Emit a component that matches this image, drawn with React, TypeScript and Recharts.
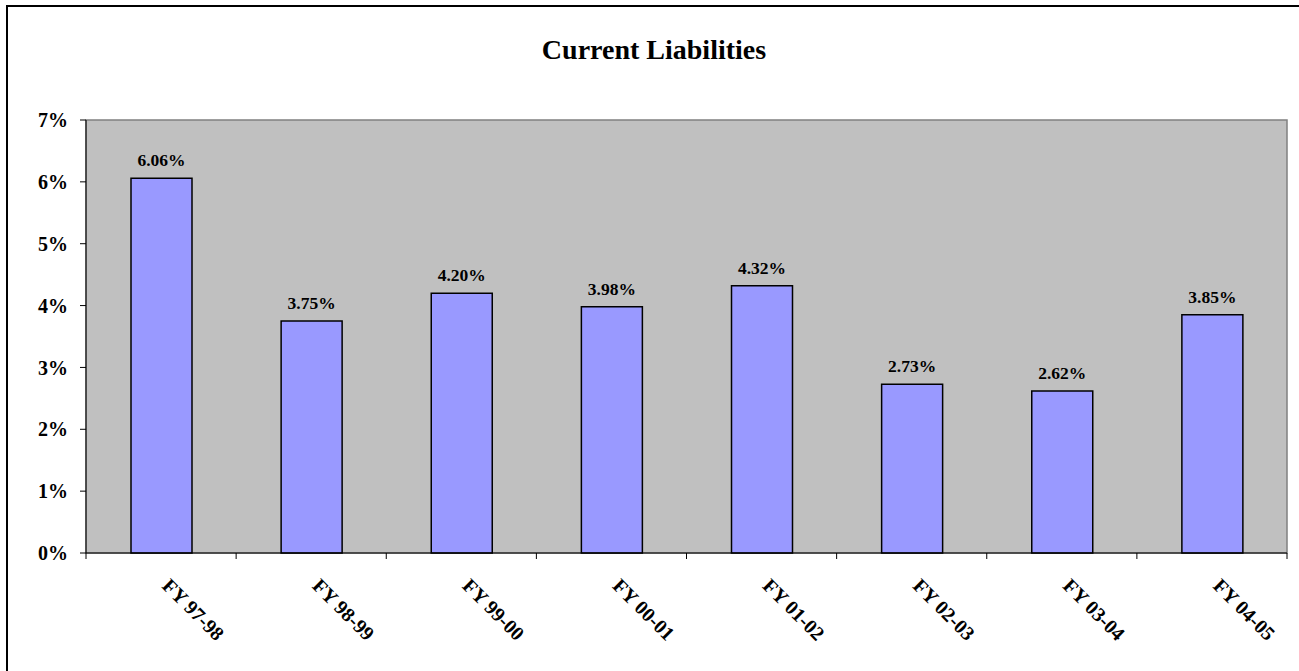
import React from "react";
import {
  Bar,
  BarChart,
  CartesianGrid,
  LabelList,
  ReferenceArea,
  XAxis,
  YAxis,
} from "recharts";

// chart values
const years: string[] = [
  "FY 97-98",
  "FY 98-99",
  "FY 99-00",
  "FY 00-01",
  "FY 01-02",
  "FY 02-03",
  "FY 03-04",
  "FY 04-05",
];
const liabilities: number[] = [6.06, 3.75, 4.2, 3.98, 4.32, 2.73, 2.62, 3.85];
const yTicks: number[] = [0, 1, 2, 3, 4, 5, 6, 7];

interface Row {
  name: string;
  value: number;
}

const data: Row[] = years.map((name, i) => ({ name, value: liabilities[i] }));

const W = 1299;
const H = 671;
const margin = { top: 120, right: 12, bottom: 0, left: 0 };
const Y_AXIS_W = 86;
const X_AXIS_H = 118;
const FONT = "'Liberation Serif', 'Times New Roman', serif";

// width of one category band, used for the boundary tick marks
const band = (W - margin.left - margin.right - Y_AXIS_W) / years.length;

const XTick = (props: any) => {
  const { x, y, payload, index } = props;
  const last = index === years.length - 1;
  const ty = y + 34;
  return (
    <g>
      <line x1={x - band / 2} y1={y} x2={x - band / 2} y2={y + 6} stroke="#000" />
      {last && <line x1={x + band / 2} y1={y} x2={x + band / 2} y2={y + 6} stroke="#000" />}
      <text
        x={x}
        y={ty}
        transform={`rotate(45 ${x} ${ty})`}
        textAnchor="start"
        fontFamily={FONT}
        fontWeight="bold"
        fontSize={20}
        fill="#000"
      >
        {payload.value}
      </text>
    </g>
  );
};

const App: React.FC = () => {
  return (
    <div style={{ position: "relative", width: W, height: H, overflow: "hidden", background: "#fff" }}>
      <style>{"body{margin:0;overflow:hidden}"}</style>
      {/* outer chart frame, only top and left edges fall inside the picture */}
      <div
        style={{
          position: "absolute",
          left: 6,
          top: 5,
          width: 1400,
          height: 800,
          borderTop: "2px solid #000",
          borderLeft: "2px solid #000",
        }}
      />
      <div
        style={{
          position: "absolute",
          left: 0,
          top: 36,
          width: 1308,
          textAlign: "center",
          fontFamily: FONT,
          fontWeight: "bold",
          fontSize: 28,
          lineHeight: "28px",
          color: "#000",
        }}
      >
        Current Liabilities
      </div>
      <div style={{ position: "absolute", left: 0, top: 0 }}>
        <BarChart width={W} height={H} data={data} margin={margin}>
          <CartesianGrid horizontal={false} vertical={false} fill="#C0C0C0" />
          <ReferenceArea y1={0} y2={7} fill="none" stroke="#808080" strokeWidth={1.5} />
          <XAxis
            dataKey="name"
            height={X_AXIS_H}
            axisLine={{ stroke: "#000" }}
            tickLine={false}
            tickSize={0}
            tickMargin={0}
            interval={0}
            tick={<XTick />}
          />
          <YAxis
            width={Y_AXIS_W}
            domain={[0, 7]}
            ticks={yTicks}
            interval={0}
            tickFormatter={(v: number) => `${v}%`}
            axisLine={{ stroke: "#000" }}
            tickLine={{ stroke: "#000" }}
            tickSize={6}
            tickMargin={12}
            tick={{ fontFamily: FONT, fontWeight: "bold", fontSize: 20, fill: "#000" }}
          />
          <Bar dataKey="value" fill="#9999FF" stroke="#000" strokeWidth={1.5} barSize={61} isAnimationActive={false}>
            <LabelList
              dataKey="value"
              position="top"
              offset={12}
              formatter={(v: any) => `${Number(v).toFixed(2)}%`}
              style={{ fontFamily: FONT, fontWeight: "bold", fontSize: 17.5, fill: "#000" }}
            />
          </Bar>
        </BarChart>
      </div>
    </div>
  );
};

export default App;
